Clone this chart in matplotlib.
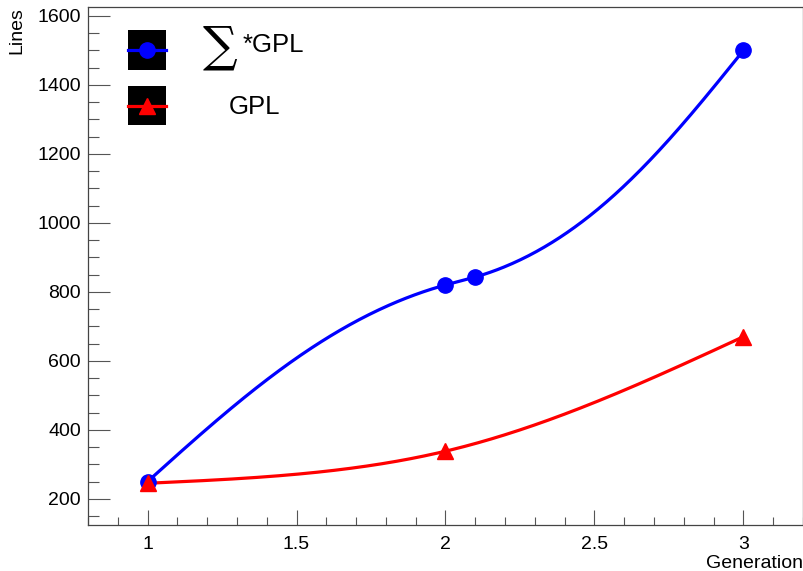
import numpy as np
import matplotlib
matplotlib.use("Agg")
import matplotlib.pyplot as plt
from matplotlib.patches import Rectangle
from matplotlib.lines import Line2D
from matplotlib.ticker import MultipleLocator

plt.rcParams['font.family'] = ['Liberation Sans', 'DejaVu Sans']

# data
gen_sum = [1.0, 2.0, 2.1, 3.0]
lines_sum = [250, 820, 843, 1500]
gen_gpl = [1.0, 2.0, 3.0]
lines_gpl = [245, 338, 670]
xticks = [1, 1.5, 2, 2.5, 3]
yticks = [200, 400, 600, 800, 1000, 1200, 1400, 1600]


def spline_1d(t, y, tt):
    t = np.asarray(t, float); y = np.asarray(y, float)
    k = len(t)
    h = np.diff(t)
    A = np.zeros((k, k)); r = np.zeros(k)
    A[0, 0] = 1; A[-1, -1] = 1
    for i in range(1, k - 1):
        A[i, i - 1] = h[i - 1]
        A[i, i] = 2 * (h[i - 1] + h[i])
        A[i, i + 1] = h[i]
        r[i] = 6 * ((y[i + 1] - y[i]) / h[i] - (y[i] - y[i - 1]) / h[i - 1])
    M = np.linalg.solve(A, r)
    out = np.empty_like(tt)
    for j, s in enumerate(tt):
        i = min(max(np.searchsorted(t, s, side='right') - 1, 0), k - 2)
        a = t[i + 1] - s; b = s - t[i]
        out[j] = (M[i] * a**3 + M[i + 1] * b**3) / (6 * h[i]) + \
            (y[i] / h[i] - M[i] * h[i] / 6) * a + (y[i + 1] / h[i] - M[i + 1] * h[i] / 6) * b
    return out


def smooth(ax, x, y, n=400):
    # parametric spline with chord-length parameter in display space
    P = ax.transData.transform(np.column_stack([x, y]))
    d = np.sqrt((np.diff(P, axis=0) ** 2).sum(axis=1))
    t = np.concatenate([[0], np.cumsum(d)])
    tt = np.linspace(0, t[-1], n)
    px_ = spline_1d(t, P[:, 0], tt)
    py_ = spline_1d(t, P[:, 1], tt)
    D = ax.transData.inverted().transform(np.column_stack([px_, py_]))
    return D[:, 0], D[:, 1]


fig = plt.figure(figsize=(8.04, 5.71), dpi=100)
W, H = 804, 571
ax = fig.add_axes([88 / W, (H - 525) / H, (803 - 88) / W, (525 - 7) / H])
ax.set_xlim(0.8, 3.2)
ax.set_ylim(124, 1626)

xs, ys = smooth(ax, gen_sum, lines_sum)
ax.plot(xs, ys, color='#0000ff', lw=2.3, zorder=3)
ax.plot(gen_sum, lines_sum, 'o', color='#0000ff', ms=11, zorder=4)

xr, yr = smooth(ax, gen_gpl, lines_gpl)
ax.plot(xr, yr, color='#ff0000', lw=2.3, zorder=3)
ax.plot(gen_gpl, lines_gpl, '^', color='#ff0000', ms=12, zorder=5)

ax.set_xticks(xticks)
ax.set_xticklabels([f"{t:g}" for t in xticks])
ax.set_yticks(yticks)
ax.xaxis.set_minor_locator(MultipleLocator(0.1))
ax.yaxis.set_minor_locator(MultipleLocator(50))
ax.tick_params(axis='x', which='major', direction='in', length=11, width=0.8, labelsize=14, pad=8, color='#555555')
ax.tick_params(axis='x', which='minor', direction='in', length=5.5, width=0.8, color='#555555')
ax.tick_params(axis='y', which='major', direction='in', length=16, width=0.8, labelsize=14, pad=5, color='#555555')
ax.tick_params(axis='y', which='minor', direction='in', length=8, width=0.8, color='#555555')
for s in ax.spines.values():
    s.set_linewidth(0.9)
    s.set_color('#444444')

fig.text(803 / W, 1 - 568 / H, 'Generation', ha='right', va='baseline', fontsize=14)
fig.text(17 / W, 1 - 7 / H, 'Lines', ha='center', va='top', rotation=90, fontsize=14)

# legend
def px(x, y):
    return x / W, 1 - y / H

for (y0, y1, col, mk) in [(30, 70, '#0000ff', 'o'), (86, 125, '#ff0000', '^')]:
    fig.add_artist(Rectangle(px(128, y1), 38 / W, (y1 - y0) / H, facecolor='black',
                             edgecolor='none', transform=fig.transFigure))
    yc = (y0 + y1) / 2
    fig.add_artist(Line2D([128 / W, 166 / W], [1 - yc / H] * 2, color=col, lw=2.3,
                          transform=fig.transFigure))
    fig.add_artist(Line2D([147 / W], [1 - yc / H], marker=mk, color=col, ms=11 if mk == 'o' else 12,
                          transform=fig.transFigure, lw=0))

fig.text(*px(203, 47), '\u2211', fontsize=35, family=['DejaVu Serif'], ha='left', va='center')
fig.text(*px(243, 45), '*GPL', fontsize=18.5, ha='left', va='center')
fig.text(*px(229, 107), 'GPL', fontsize=18.5, ha='left', va='center')

fig.savefig('out.png', dpi=100)
